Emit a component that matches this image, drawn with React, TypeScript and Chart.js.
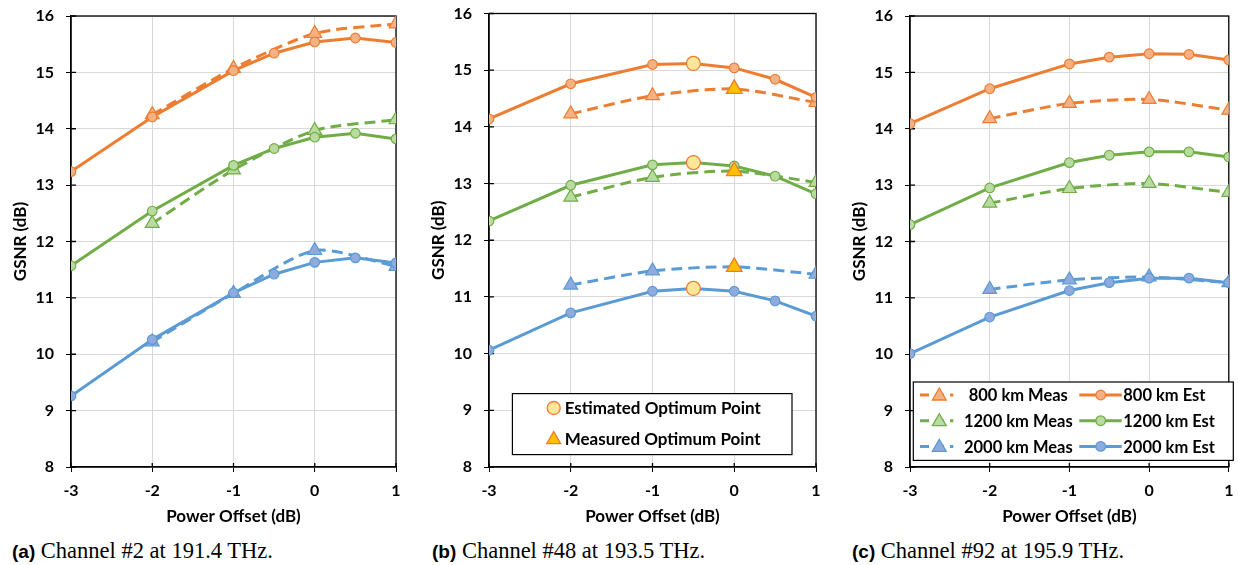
import React, { useEffect, useRef } from 'react';
import { Chart, registerables } from 'chart.js';
Chart.register(...registerables);

// ---------- data ----------
const xEst = [-3, -2, -1, -0.5, 0, 0.5, 1];
const xMeas = [-2, -1, 0, 1];
const xTickValues = [-3, -2, -1, 0, 1];
const yTickValues = [8, 9, 10, 11, 12, 13, 14, 15, 16];

const a800Est = [13.24, 14.21, 15.03, 15.34, 15.54, 15.61, 15.53];
const a800Meas = [14.25, 15.07, 15.69, 15.86];
const a1200Est = [11.57, 12.54, 13.35, 13.65, 13.85, 13.92, 13.82];
const a1200Meas = [12.32, 13.27, 13.97, 14.16];
const a2000Est = [9.26, 10.26, 11.09, 11.42, 11.63, 11.71, 11.62];
const a2000Meas = [10.22, 11.08, 11.84, 11.56];

const b800Est = [14.14, 14.76, 15.10, 15.12, 15.04, 14.84, 14.52];
const b800Meas = [14.23, 14.55, 14.67, 14.43];
const b1200Est = [12.34, 12.97, 13.33, 13.37, 13.31, 13.13, 12.82];
const b1200Meas = [12.76, 13.11, 13.22, 13.02];
const b2000Est = [10.06, 10.72, 11.10, 11.15, 11.10, 10.93, 10.66];
const b2000Meas = [11.21, 11.46, 11.53, 11.40];
const bEstOptX = [-0.5, -0.5, -0.5];
const bEstOpt = [15.12, 13.37, 11.15];
const bMeasOptX = [0, 0, 0];
const bMeasOpt = [14.67, 13.22, 11.53];

const c800Est = [14.09, 14.71, 15.15, 15.27, 15.33, 15.32, 15.22];
const c800Meas = [14.18, 14.45, 14.52, 14.33];
const c1200Est = [12.30, 12.95, 13.40, 13.53, 13.59, 13.59, 13.50];
const c1200Meas = [12.68, 12.94, 13.03, 12.87];
const c2000Est = [10.01, 10.66, 11.13, 11.27, 11.35, 11.35, 11.27];
const c2000Meas = [11.15, 11.32, 11.37, 11.27];

const measLabels = ['800 km Meas', '1200 km Meas', '2000 km Meas'];
const estLabels = ['800 km Est', '1200 km Est', '2000 km Est'];
const optLabels = ['Estimated Optimum Point', 'Measured Optimum Point'];
const yTitle = 'GSNR (dB)';
const xTitle = 'Power Offset (dB)';
const captionTags = ['(a)', '(b)', '(c)'];
const captionTexts = ['Channel #2 at 191.4 THz.', 'Channel #48 at 193.5 THz.', 'Channel #92 at 195.9 THz.'];

// ---------- styles ----------
const lineColors = ['#ED7D31', '#70AD47', '#5B9BD5'];
const markerFills = ['#F4B183', '#B9DBA0', '#8FAADC'];
const optEstFill = '#FFE699';
const optMeasFill = '#FFC000';
const optBorder = '#ED7D31';
const FONT = 'Lato';

const pts = (xs: number[], ys: number[]) => xs.map((x, i) => ({ x, y: ys[i] }));

function drawTri(ctx: CanvasRenderingContext2D, x: number, y: number, r: number) {
  ctx.beginPath();
  let rad = 0;
  ctx.moveTo(x + Math.sin(rad) * r, y - Math.cos(rad) * r);
  rad += (2 * Math.PI) / 3;
  ctx.lineTo(x + Math.sin(rad) * r, y - Math.cos(rad) * r);
  rad += (2 * Math.PI) / 3;
  ctx.lineTo(x + Math.sin(rad) * r, y - Math.cos(rad) * r);
  ctx.closePath();
}
function drawCirc(ctx: CanvasRenderingContext2D, x: number, y: number, r: number) {
  ctx.beginPath();
  ctx.arc(x, y, r, 0, Math.PI * 2);
  ctx.closePath();
}

const decorPlugin = {
  id: 'decor',
  beforeDatasetsDraw(chart: any) {
    const { ctx, chartArea: ca, scales } = chart;
    ctx.save();
    ctx.strokeStyle = '#000';
    ctx.lineWidth = 1.3;
    ctx.strokeRect(ca.left, ca.top, ca.right - ca.left, ca.bottom - ca.top);
    ctx.beginPath();
    yTickValues.forEach((v) => {
      const y = scales.y.getPixelForValue(v);
      ctx.moveTo(ca.left, y);
      ctx.lineTo(ca.left + 5, y);
    });
    xTickValues.forEach((v) => {
      const x = scales.x.getPixelForValue(v);
      ctx.moveTo(x, ca.bottom);
      ctx.lineTo(x, ca.bottom - 4);
    });
    ctx.stroke();
    ctx.restore();
  },
  afterDraw(chart: any, _args: any, opts: any) {
    const lg = opts && opts.legend;
    if (!lg) return;
    const { ctx, chartArea: ca } = chart;
    ctx.save();
    const bx = ca.left + lg.box[0];
    const by = ca.bottom - lg.box[1];
    ctx.fillStyle = '#fff';
    ctx.fillRect(bx, by, lg.box[2], lg.box[3]);
    ctx.strokeStyle = '#000';
    ctx.lineWidth = 1.2;
    ctx.strokeRect(bx, by, lg.box[2], lg.box[3]);
    ctx.font = `bold ${lg.fontSize}px ${FONT}`;
    ctx.textBaseline = 'middle';
    lg.items.forEach((it: any) => {
      const y = ca.bottom - it.y;
      if (it.line) {
        ctx.strokeStyle = it.line;
        ctx.lineWidth = 3;
        ctx.setLineDash(it.dash || []);
        ctx.beginPath();
        ctx.moveTo(ca.left + it.lx0, y);
        ctx.lineTo(ca.left + it.lx1, y);
        ctx.stroke();
        ctx.setLineDash([]);
      }
      const mx = ca.left + it.mx;
      ctx.fillStyle = it.fill;
      ctx.strokeStyle = it.border;
      ctx.lineWidth = 1.3;
      if (it.shape === 'triangle') drawTri(ctx, mx, y + 1, it.r);
      else drawCirc(ctx, mx, y, it.r);
      ctx.fill();
      ctx.stroke();
      ctx.fillStyle = '#000';
      ctx.textAlign = it.align || 'left';
      ctx.fillText(it.text, ca.left + it.tx, y + 1);
    });
    ctx.restore();
  },
};

type PanelData = {
  est: number[][];
  meas: number[][];
  estOpt?: { x: number[]; y: number[] };
  measOpt?: { x: number[]; y: number[] };
};

function buildConfig(d: PanelData, layout: any, legend: any) {
  const datasets: any[] = [];
  for (let i = 0; i < 3; i++) {
    datasets.push({
      label: measLabels[i],
      data: pts(xMeas, d.meas[i]),
      borderColor: lineColors[i],
      backgroundColor: markerFills[i],
      borderWidth: 3,
      borderDash: [11, 6],
      tension: 0.25,
      pointStyle: 'triangle',
      pointRadius: 8,
      pointBorderWidth: 1.2,
      pointBorderColor: lineColors[i],
      pointBackgroundColor: markerFills[i],
      order: 3,
    });
    datasets.push({
      label: estLabels[i],
      data: pts(xEst, d.est[i]),
      borderColor: lineColors[i],
      backgroundColor: markerFills[i],
      borderWidth: 3,
      tension: 0,
      pointStyle: 'circle',
      pointRadius: 4.8,
      pointBorderWidth: 1.2,
      pointBorderColor: lineColors[i],
      pointBackgroundColor: markerFills[i],
      order: 2,
    });
  }
  if (d.estOpt) {
    datasets.push({
      label: optLabels[0],
      data: pts(d.estOpt.x, d.estOpt.y),
      showLine: false,
      pointStyle: 'circle',
      pointRadius: 7,
      pointBorderWidth: 1.3,
      pointBorderColor: optBorder,
      pointBackgroundColor: optEstFill,
      order: 0,
    });
  }
  if (d.measOpt) {
    datasets.push({
      label: optLabels[1],
      data: pts(d.measOpt.x, d.measOpt.y),
      showLine: false,
      pointStyle: 'triangle',
      pointRadius: 9,
      pointBorderWidth: 1.3,
      pointBorderColor: optBorder,
      pointBackgroundColor: optMeasFill,
      order: 1,
    });
  }
  return {
    type: 'line',
    data: { datasets },
    options: {
      animation: false,
      responsive: false,
      maintainAspectRatio: false,
      layout: { padding: layout.padding },
      plugins: { legend: { display: false }, tooltip: { enabled: false }, decor: { legend } },
      scales: {
        x: {
          type: 'linear',
          min: xTickValues[0],
          max: xTickValues[xTickValues.length - 1],
          afterBuildTicks: (s: any) => { s.ticks = xTickValues.map((v) => ({ value: v })); },
          afterFit: (s: any) => { s.height = 60; s.paddingLeft = 0; s.paddingRight = 0; },
          grid: { color: '#d9d9d9', lineWidth: 1, tickLength: 5, tickColor: '#000' },
          border: { color: '#000', width: 1.3 },
          ticks: { color: '#000', font: { family: FONT, size: 16, weight: 'bold' }, padding: 9, maxRotation: 0 },
          title: { display: true, text: xTitle, color: '#000', font: { family: FONT, size: 17, weight: 'bold' }, padding: { top: 0, bottom: 0 } },
        },
        y: {
          type: 'linear',
          min: yTickValues[0],
          max: yTickValues[yTickValues.length - 1],
          afterBuildTicks: (s: any) => { s.ticks = yTickValues.map((v) => ({ value: v })); },
          afterFit: (s: any) => { s.width = 71; s.paddingTop = 0; s.paddingBottom = 0; },
          grid: { color: '#d9d9d9', lineWidth: 1, tickLength: 5, tickColor: '#000' },
          border: { color: '#000', width: 1.3 },
          ticks: { color: '#000', font: { family: FONT, size: 16, weight: 'bold' }, padding: 12 },
          title: { display: true, text: yTitle, color: '#000', font: { family: FONT, size: 17, weight: 'bold' }, padding: { top: 10.5, bottom: 0 } },
        },
      },
    },
    plugins: [decorPlugin],
  };
}

const legendB = {
  box: [23.4, 73.4, 279.6, 61],
  fontSize: 17,
  items: [
    { shape: 'circle', r: 6.5, fill: optEstFill, border: optBorder, mx: 64.7, y: 59, tx: 75.7, text: optLabels[0] },
    { shape: 'triangle', r: 8, fill: optMeasFill, border: optBorder, mx: 64.7, y: 28.4, tx: 75.7, text: optLabels[1] },
  ],
};

const legendC = {
  box: [3.3, 85, 320, 78.4],
  fontSize: 16.5,
  items: [0, 1, 2].flatMap((i) => {
    const y = [72, 46.3, 20.6][i];
    return [
      { shape: 'triangle', r: 8, fill: markerFills[i], border: lineColors[i], line: lineColors[i], dash: [9, 6], lx0: 10, lx1: 43.3, mx: 29.3, y, tx: 108.3, align: 'center', text: measLabels[i] },
      { shape: 'circle', r: 4.8, fill: markerFills[i], border: lineColors[i], line: lineColors[i], lx0: 169.3, lx1: 211.7, mx: 190.7, y, tx: 213.3, text: estLabels[i] },
    ];
  }),
};

const panels = [
  {
    left: 0, width: 412,
    padding: { left: 0, top: 16, right: 16, bottom: 3 },
    data: { est: [a800Est, a1200Est, a2000Est], meas: [a800Meas, a1200Meas, a2000Meas] },
    legend: null,
    capLeft: 12,
  },
  {
    left: 418, width: 414,
    padding: { left: 0, top: 13.5, right: 16, bottom: 3 },
    data: {
      est: [b800Est, b1200Est, b2000Est], meas: [b800Meas, b1200Meas, b2000Meas],
      estOpt: { x: bEstOptX, y: bEstOpt }, measOpt: { x: bMeasOptX, y: bMeasOpt },
    },
    legend: legendB,
    capLeft: 432,
  },
  {
    left: 839, width: 399,
    padding: { left: 0, top: 16, right: 3, bottom: 3 },
    data: { est: [c800Est, c1200Est, c2000Est], meas: [c800Meas, c1200Meas, c2000Meas] },
    legend: legendC,
    capLeft: 852,
  },
];

function Panel({ idx }: { idx: number }) {
  const ref = useRef<HTMLCanvasElement | null>(null);
  const p = panels[idx];
  useEffect(() => {
    if (!ref.current) return;
    const chart = new Chart(ref.current, buildConfig(p.data as PanelData, { padding: p.padding }, p.legend) as any);
    return () => chart.destroy();
  }, []);
  return (
    <>
      <canvas
        ref={ref}
        width={p.width}
        height={530}
        style={{ position: 'absolute', left: p.left, top: 0, width: p.width, height: 530 }}
      />
      <div
        style={{
          position: 'absolute', left: p.capLeft, top: 538, whiteSpace: 'nowrap',
          fontFamily: '"Liberation Serif", serif', fontSize: 22.5, color: '#000', lineHeight: '26px',
        }}
      >
        <span style={{ fontFamily: '"Liberation Sans", sans-serif', fontWeight: 'bold', fontSize: 19 }}>{captionTags[idx]}</span>{' '}
        {captionTexts[idx]}
      </div>
    </>
  );
}

export default function App() {
  return (
    <div style={{ position: 'fixed', left: 0, top: 0, width: 1238, height: 565, background: '#fff', overflow: 'hidden' }}>
      <Panel idx={0} />
      <Panel idx={1} />
      <Panel idx={2} />
    </div>
  );
}
